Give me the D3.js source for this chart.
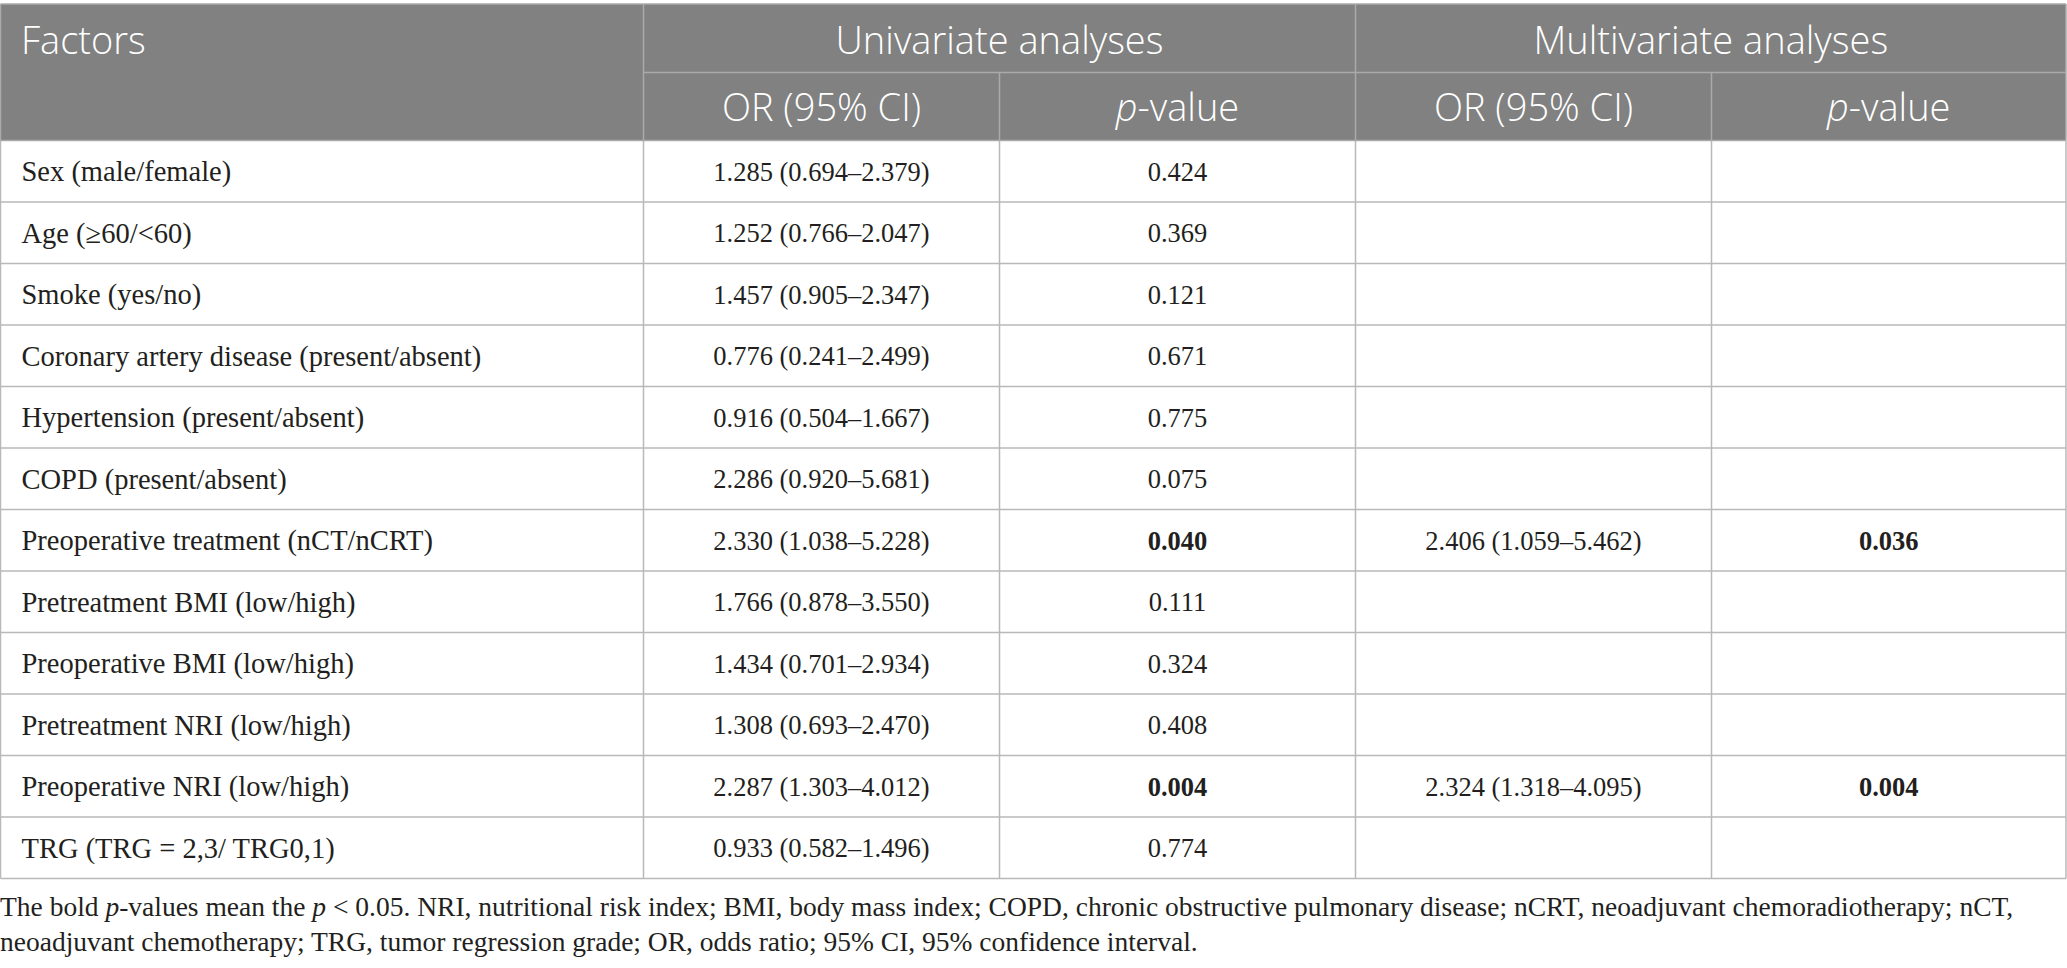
<!DOCTYPE html>
<html><head><meta charset="utf-8">
<script src="https://cdn.jsdelivr.net/npm/d3@7"></script>
<style>body{margin:0;background:#fff}svg{display:block}</style>
</head><body>
<svg id="c" width="2067" height="968"></svg>
<script>
const factors = ["Sex (male/female)","Age (\u226560/<60)","Smoke (yes/no)","Coronary artery disease (present/absent)","Hypertension (present/absent)","COPD (present/absent)","Preoperative treatment (nCT/nCRT)","Pretreatment BMI (low/high)","Preoperative BMI (low/high)","Pretreatment NRI (low/high)","Preoperative NRI (low/high)","TRG (TRG = 2,3/ TRG0,1)"];
const uniOR = [1.285,1.252,1.457,0.776,0.916,2.286,2.330,1.766,1.434,1.308,2.287,0.933];
const uniLo = [0.694,0.766,0.905,0.241,0.504,0.920,1.038,0.878,0.701,0.693,1.303,0.582];
const uniHi = [2.379,2.047,2.347,2.499,1.667,5.681,5.228,3.550,2.934,2.470,4.012,1.496];
const uniP  = [0.424,0.369,0.121,0.671,0.775,0.075,0.040,0.111,0.324,0.408,0.004,0.774];
const multiOR = [null,null,null,null,null,null,2.406,null,null,null,2.324,null];
const multiLo = [null,null,null,null,null,null,1.059,null,null,null,1.318,null];
const multiHi = [null,null,null,null,null,null,5.462,null,null,null,4.095,null];
const multiP  = [null,null,null,null,null,null,0.036,null,null,null,0.004,null];
const groupHeaders = ["Univariate analyses","Multivariate analyses"];
const subHeaders = ["OR (95% CI)","p-value"];
const footLines = [
 [["The bold ",""],["p","i"],["-values mean the ",""],["p","i"],[" < 0.05. NRI, nutritional risk index; BMI, body mass index; COPD, chronic obstructive pulmonary disease; nCRT, neoadjuvant chemoradiotherapy; nCT,",""]],
 [["neoadjuvant chemotherapy; TRG, tumor regression grade; OR, odds ratio; 95% CI, 95% confidence interval.",""]]
];

const svg = d3.select("#c");
const f3 = d3.format(".3f");
const fmtOR = (o,l,h) => o==null ? "" : `${f3(o)} (${f3(l)}\u2013${f3(h)})`;
const fmtP = p => p==null ? "" : f3(p);

const L = 0.5, R = 2066, T = 4, H1 = 72.5, H2 = 140.5, B = 878.5;
const colEdges = [L, 643.5, 999.5, 1355.5, 1711.5, R];
const y = d3.scaleBand().domain(d3.range(factors.length)).range([H2, B]);
const headBg = "#808180", headLine = "#a9aaa9", bodyLine = "#b9b9b9";
const sans = "'Open Sans', sans-serif", serif = "'Liberation Serif', 'Times New Roman', serif";
const labelSize = 28.5, numSize = 26.5, footSize = 27.5, headSize = 38;

svg.append("rect").attr("x",L).attr("y",T).attr("width",R-L).attr("height",H2-T).attr("fill",headBg);
const rowsG = svg.append("g");
factors.forEach((f,i)=>{
  const yc = y(i) + y.bandwidth()/2;
  const cells = [
    {t:f, x:colEdges[0]+21, a:"start", b:false, s:labelSize},
    {t:fmtOR(uniOR[i],uniLo[i],uniHi[i]), x:(colEdges[1]+colEdges[2])/2, a:"middle", b:false, s:numSize},
    {t:fmtP(uniP[i]), x:(colEdges[2]+colEdges[3])/2, a:"middle", b:uniP[i]<0.05, s:numSize},
    {t:fmtOR(multiOR[i],multiLo[i],multiHi[i]), x:(colEdges[3]+colEdges[4])/2, a:"middle", b:false, s:numSize},
    {t:fmtP(multiP[i]), x:(colEdges[4]+colEdges[5])/2, a:"middle", b:multiP[i]!=null && multiP[i]<0.05, s:numSize}
  ];
  cells.forEach(c=>{
    rowsG.append("text").attr("x",c.x).attr("y",yc).attr("dy","0.35em")
      .attr("text-anchor",c.a).attr("font-family",serif).attr("font-size",c.s)
      .attr("font-weight",c.b?"bold":"normal").attr("fill","#231f20").text(c.t);
  });
});
const lines = svg.append("g").attr("stroke",bodyLine).attr("stroke-width",1.5).attr("fill","none");
d3.range(1,factors.length).forEach(i=>{
  lines.append("line").attr("x1",L).attr("x2",R).attr("y1",y(i)).attr("y2",y(i));
});
colEdges.forEach(x=>{
  lines.append("line").attr("x1",x).attr("x2",x).attr("y1",H2).attr("y2",B);
});
lines.append("line").attr("x1",L).attr("x2",R).attr("y1",B).attr("y2",B);
const hl = svg.append("g").attr("stroke",headLine).attr("stroke-width",1.5);
hl.append("line").attr("x1",L).attr("x2",R).attr("y1",T).attr("y2",T);
hl.append("line").attr("x1",colEdges[1]).attr("x2",R).attr("y1",H1).attr("y2",H1);
hl.append("line").attr("x1",L).attr("x2",R).attr("y1",H2).attr("y2",H2);
[colEdges[1],colEdges[3]].forEach(x=>hl.append("line").attr("x1",x).attr("x2",x).attr("y1",T).attr("y2",H2));
[colEdges[2],colEdges[4]].forEach(x=>hl.append("line").attr("x1",x).attr("x2",x).attr("y1",H1).attr("y2",H2));
[L,R].forEach(x=>hl.append("line").attr("x1",x).attr("x2",x).attr("y1",T).attr("y2",H2));
const ht = svg.append("g").attr("fill","#fff").attr("font-family",sans).attr("font-size",headSize).attr("font-weight",300);
ht.append("text").attr("x",21).attr("y",(T+H1)/2+2).attr("dy","0.35em").text("Factors");
groupHeaders.forEach((g,k)=>{
  ht.append("text").attr("x",(colEdges[1+2*k]+colEdges[3+2*k])/2).attr("y",(T+H1)/2+2).attr("dy","0.35em").attr("text-anchor","middle").text(g);
  subHeaders.forEach((s,j)=>{
    const t = ht.append("text").attr("x",(colEdges[1+2*k+j]+colEdges[2+2*k+j])/2).attr("y",(H1+H2)/2+1).attr("dy","0.35em").attr("text-anchor","middle");
    if (s.startsWith("p-")) { t.append("tspan").attr("font-style","italic").text("p"); t.append("tspan").text(s.slice(1)); }
    else t.text(s);
  });
});
const fy = [906, 941];
footLines.forEach((parts,k)=>{
  const t = svg.append("text").attr("x",0).attr("y",fy[k]).attr("dy","0.35em").attr("font-family",serif).attr("font-size",footSize).attr("fill","#231f20");
  parts.forEach(([s,st])=>{ const sp=t.append("tspan").text(s); if(st==="i") sp.attr("font-style","italic"); });
});
</script>
</body></html>
